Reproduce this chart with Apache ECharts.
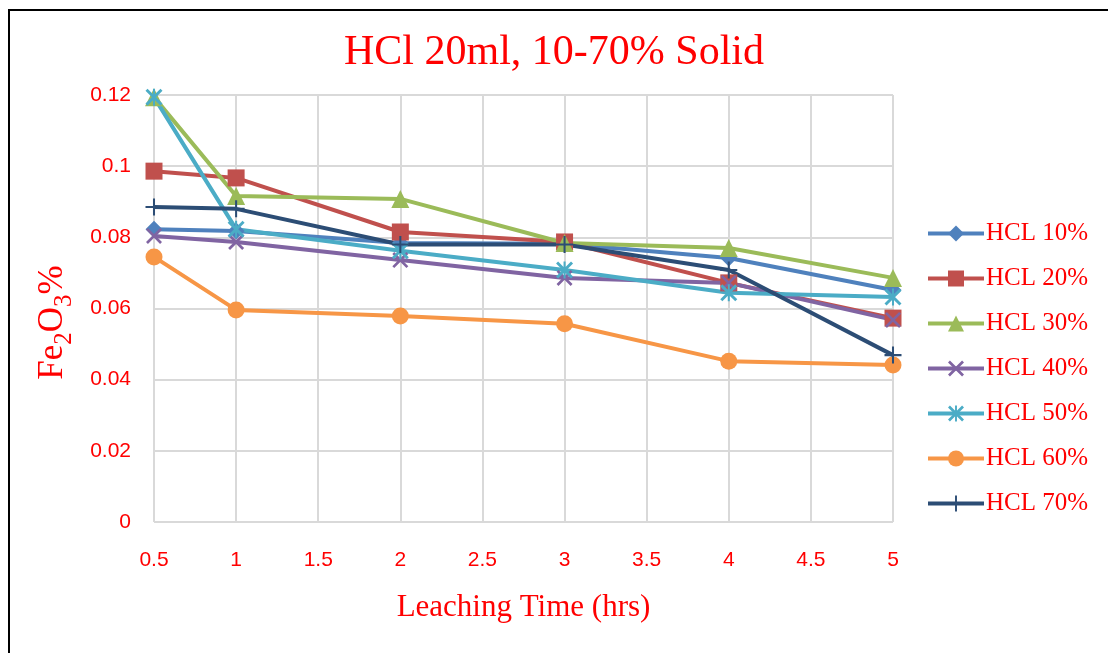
<!DOCTYPE html>
<html>
<head>
<meta charset="utf-8">
<script src="https://cdn.jsdelivr.net/npm/echarts@6/dist/echarts.min.js"></script>
<style>
  html, body { margin: 0; padding: 0; background: #fff; }
  #frame { position: absolute; left: 8px; top: 9px; width: 1108px; height: 660px; border: 2px solid #000; box-sizing: border-box; }
  #chart { position: absolute; left: 0; top: 0; width: 1108px; height: 653px; }
</style>
</head>
<body>
<div id="frame"></div>
<div id="chart"></div>
<script>
const hours = [0.5, 1, 2, 3, 4, 5];
const hcl10 = [0.0823, 0.0818, 0.0784, 0.0782, 0.0742, 0.0652];
const hcl20 = [0.0986, 0.0967, 0.0815, 0.0787, 0.0672, 0.0573];
const hcl30 = [0.1194, 0.0916, 0.0908, 0.0784, 0.0770, 0.0686];
const hcl40 = [0.0804, 0.0787, 0.0736, 0.0686, 0.0672, 0.0568];
const hcl50 = [0.1194, 0.0823, 0.0762, 0.0708, 0.0644, 0.0632];
const hcl60 = [0.0745, 0.0596, 0.0579, 0.0557, 0.0452, 0.0441];
const hcl70 = [0.0885, 0.0880, 0.0780, 0.0780, 0.0708, 0.0469];

const red = '#ff0000';
const serif = '"Liberation Serif", "Times New Roman", serif';
const sans = '"Liberation Sans", Arial, sans-serif';

// line-only marks drawn as thin filled shapes
const xMark = 'path://M0,1.2L1.2,0L10,8.8L8.8,10Z M8.8,0L10,1.2L1.2,10L0,8.8Z';
const starMark = 'path://M0,1.2L1.2,0L10,8.8L8.8,10Z M8.8,0L10,1.2L1.2,10L0,8.8Z M4.4,0L5.6,0L5.6,10L4.4,10Z';
const plusMark = 'path://M4.4,0L5.6,0L5.6,10L4.4,10Z M0,4.4L10,4.4L10,5.6L0,5.6Z';

const seriesDefs = [
  { name: 'HCL 10%', data: hcl10, color: '#4F81BD', symbol: 'diamond', size: 17 },
  { name: 'HCL 20%', data: hcl20, color: '#C0504D', symbol: 'rect', size: 17 },
  { name: 'HCL 30%', data: hcl30, color: '#9BBB59', symbol: 'triangle', size: 18 },
  { name: 'HCL 40%', data: hcl40, color: '#8064A2', symbol: xMark, size: 16 },
  { name: 'HCL 50%', data: hcl50, color: '#4BACC6', symbol: starMark, size: 17 },
  { name: 'HCL 60%', data: hcl60, color: '#F79646', symbol: 'circle', size: 17 },
  { name: 'HCL 70%', data: hcl70, color: '#2C4D75', symbol: plusMark, size: 17 }
];

const chart = echarts.init(document.getElementById('chart'));
chart.setOption({
  animation: false,
  title: {
    text: 'HCl 20ml, 10-70% Solid',
    left: 'center',
    top: 27,
    textStyle: { color: red, fontFamily: serif, fontSize: 42, fontWeight: 'normal' }
  },
  grid: { left: 154, right: 215, top: 95, bottom: 131 },
  legend: {
    orient: 'vertical',
    left: 921,
    top: 216,
    itemWidth: 56,
    itemHeight: 20,
    itemGap: 20,
    lineStyle: { width: 4 },
    textStyle: { color: red, fontFamily: serif, fontSize: 25, padding: [0, 0, 0, -3] },
    data: seriesDefs.map(s => s.name)
  },
  xAxis: {
    type: 'value',
    min: 0.5,
    max: 5,
    interval: 0.5,
    name: 'Leaching Time (hrs)',
    nameLocation: 'middle',
    nameGap: 70,
    nameTextStyle: { color: red, fontFamily: serif, fontSize: 31 },
    axisLine: { show: false },
    axisTick: { show: false },
    axisLabel: { color: red, fontFamily: sans, fontSize: 21, margin: 28 },
    splitLine: { show: true, lineStyle: { color: '#d9d9d9', width: 2 } }
  },
  yAxis: {
    type: 'value',
    min: 0,
    max: 0.12,
    interval: 0.02,
    name: '{a|Fe}{s|2}{a|O}{s|3}{a|%}',
    nameLocation: 'middle',
    nameGap: 84,
    nameTextStyle: {
      padding: [0, 0, 0, -28],
      rich: {
        a: { color: red, fontFamily: serif, fontSize: 35, lineHeight: 40, verticalAlign: 'bottom' },
        s: { color: red, fontFamily: serif, fontSize: 25, lineHeight: 40, verticalAlign: 'bottom', padding: [0, 0, -7, 0] }
      }
    },
    axisLine: { show: false },
    axisTick: { show: false },
    axisLabel: { color: red, fontFamily: sans, fontSize: 21, margin: 23 },
    splitLine: { show: true, lineStyle: { color: '#d9d9d9', width: 2 } }
  },
  series: seriesDefs.map(s => ({
    name: s.name,
    type: 'line',
    data: hours.map((h, i) => [h, s.data[i]]),
    symbol: s.symbol,
    symbolSize: s.size,
    showAllSymbol: true,
    lineStyle: { color: s.color, width: 4 },
    itemStyle: { color: s.color }
  }))
});
</script>
</body>
</html>
